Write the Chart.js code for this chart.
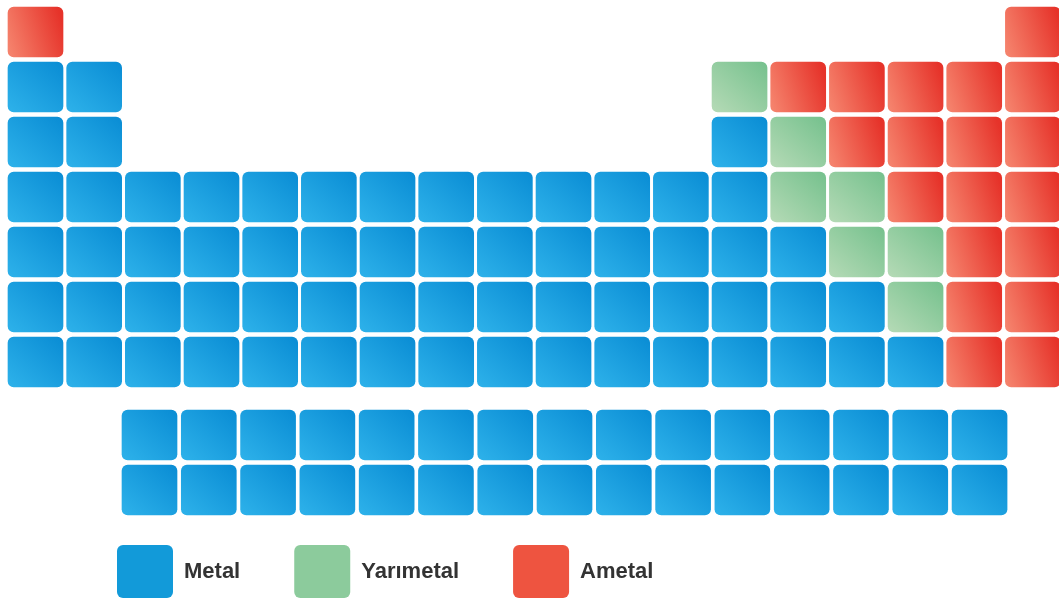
<!DOCTYPE html>
<html>
<head>
<title>Periyodik Tablo</title>
<style> html, body { margin: 0; padding: 0; background: #ffffff; } #wrap { width: 1059px; height: 600px; position: relative; } </style>
</head>
<body>
<div id="wrap"><canvas id="tableChart"></canvas></div>

<script src="https://cdn.jsdelivr.net/npm/chart.js@4"></script>
<script>
// M = Metal, Y = Yarımetal, A = Ametal, . = boş
const categories = ['Metal', 'Yarımetal', 'Ametal'];
const codes = ['M', 'Y', 'A'];
const periods = [
  'A................A',
  'MM..........YAAAAA',
  'MM..........MYAAAA',
  'MMMMMMMMMMMMMYYAAA',
  'MMMMMMMMMMMMMMYYAA',
  'MMMMMMMMMMMMMMMYAA',
  'MMMMMMMMMMMMMMMMAA'
];
const lanthanides = 'MMMMMMMMMMMMMMM';
const actinides   = 'MMMMMMMMMMMMMMM';

// colours: [light corner, dark corner, legend]
const fills = {
  M: ['#2cb0e9', '#0b8ed5', '#129ad9'],
  Y: ['#b2d9b4', '#78c28f', '#8ccb9c'],
  A: ['#f5826c', '#e6332a', '#ee5440']
};
const half = 0.455; // half cell height in row units

function cells(rows, code) {
  let out = [];
  rows.forEach(function(row, r){
    for (let c = 0; c < row.length; c++) {
      if (row[c] === code) out.push({x: c + 1, y: [r + 1 - half, r + 1 + half]});
    }
  });
  return out;
}

function cellFill(code) {
  let f = fills[code];
  return function(ctx){
    if (ctx.type !== 'data') return f[2];
    let chart = ctx.chart, ds = chart.data.datasets[ctx.datasetIndex];
    let xs = chart.scales[ds.xAxisID], ys = chart.scales[ds.yAxisID];
    if (!xs || !ys || !chart.chartArea) return f[2];
    let cx = xs.getPixelForValue(ctx.raw.x);
    let y0 = ys.getPixelForValue(ctx.raw.y[0]), y1 = ys.getPixelForValue(ctx.raw.y[1]);
    let top = Math.min(y0, y1), bot = Math.max(y0, y1);
    let g;
    if (code === 'A') g = chart.ctx.createLinearGradient(cx - 28, (top + bot) / 2 + 12, cx + 28, (top + bot) / 2 - 6);
    else g = chart.ctx.createLinearGradient(cx - 22, bot, cx + 22, top);
    g.addColorStop(0, f[0]);
    g.addColorStop(1, f[1]);
    return g;
  };
}

let datasets = [];
codes.forEach(function(code, i){
  datasets.push({
    label: categories[i],
    data: cells(periods, code),
    xAxisID: 'x', yAxisID: 'y',
    backgroundColor: cellFill(code),
    borderWidth: 0, borderRadius: 6, borderSkipped: false,
    barThickness: 55, clip: false
  });
});
datasets.push({
  label: 'f-blok',
  data: cells([lanthanides, actinides], 'M'),
  xAxisID: 'x2', yAxisID: 'y2',
  backgroundColor: cellFill('M'),
  borderWidth: 0, borderRadius: 6, borderSkipped: false,
  barThickness: 55, clip: false
});

let chart = new Chart(document.getElementById('tableChart').getContext('2d'), {
  type: 'bar',
  data: { datasets: datasets },
  options: {
    responsive: true,
    maintainAspectRatio: false,
    animation: false,
    grouped: false,
    layout: { padding: { left: 63, top: 0, right: 0, bottom: 0 } },
    scales: {
      x:  { type: 'linear', display: false, offset: false, min: 1.4687, max: 18.445 },
      x2: { type: 'linear', display: false, offset: false, min: -0.459, max: 16.34 },
      y:  { type: 'linear', display: false, reverse: true, min: 0.4182, max: 9.345 },
      y2: { type: 'linear', display: false, reverse: true, min: -6.909, max: 2.018 }
    },
    plugins: {
      tooltip: { enabled: false },
      legend: {
        position: 'bottom',
        align: 'start',
        maxHeight: 109,
        labels: {
          boxWidth: 56, boxHeight: 53, padding: 54,
          useBorderRadius: true, borderRadius: 6,
          color: '#333333',
          font: { family: '"Liberation Sans", Arial, sans-serif', size: 22, weight: 'bold' },
          filter: function(item){ return item.datasetIndex < 3; },
          generateLabels: function(c){
            let items = Chart.defaults.plugins.legend.labels.generateLabels(c);
            items.forEach(function(it){
              if (it.datasetIndex < 3) {
                let col = fills[codes[it.datasetIndex]][2];
                it.fillStyle = col;
                it.strokeStyle = col;
                it.lineWidth = 0;
              }
            });
            return items;
          }
        }
      }
    }
  }
});
</script>
</body>
</html>
